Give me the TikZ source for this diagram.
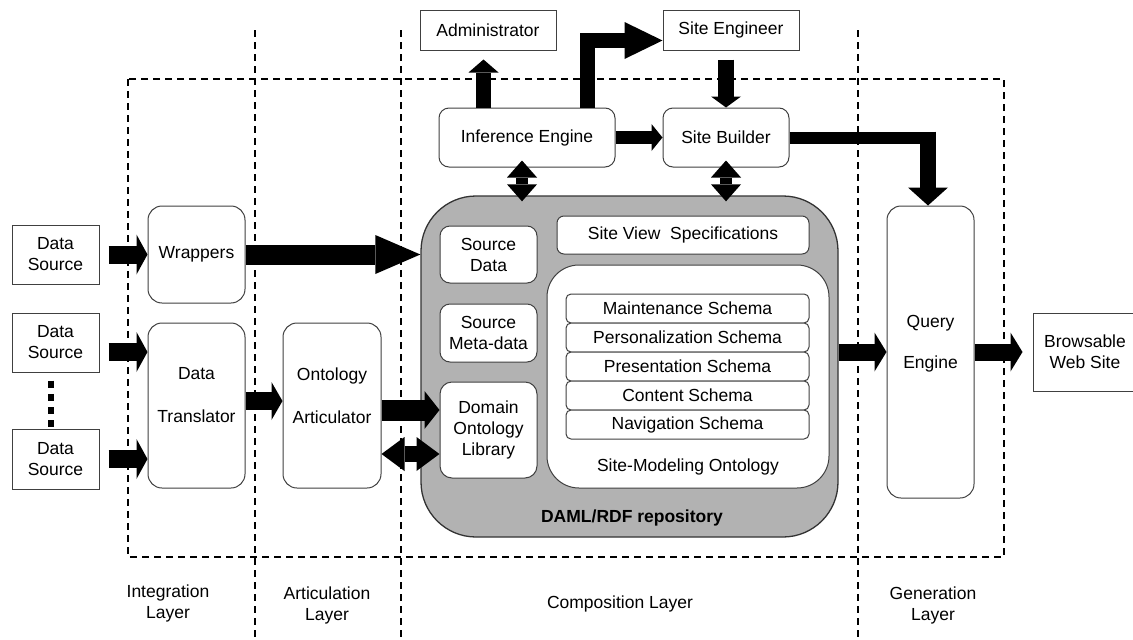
\documentclass[tikz,border=0pt]{standalone}
\usepackage{fontspec}
\setmainfont{Liberation Sans}
\usetikzlibrary{arrows.meta,calc}
\begin{document}
\begin{tikzpicture}[x=1pt,y=-1pt,
  font=\fontsize{17.5}{21}\selectfont,
  box/.style={draw=black!75, line width=1pt, fill=white, align=center, inner sep=0pt},
  rbox/.style={box, rounded corners=#1},
  dashline/.style={line width=2pt, dash pattern=on 7pt off 5pt},
  blk/.style={draw=black, line width=#1, line cap=butt, line join=miter},
  hd/.style 2 args={-{Triangle[width=#1,length=#2,line width=0pt]}},
  dhd/.style 2 args={arrows={Triangle[width=#1,length=#2,line width=0pt]-Triangle[width=#1,length=#2,line width=0pt]}},
]
\useasboundingbox (0,0) rectangle (1133,640);

% layer separators
\draw[dashline] (255,30) -- (255,640);
\draw[dashline] (401,30) -- (401,640);
\draw[dashline] (858,30) -- (858,640);
\draw[dashline] (128,79) rectangle (1004,557);

% top actors
\node[box, minimum width=136pt, minimum height=40pt] (Admin) at (488,30) {Administrator};
\node[box, minimum width=136pt, minimum height=40pt] (SE) at (731,30) {Site Engineer};
\node[rbox=10pt, minimum width=176pt, minimum height=59pt] (IE) at (527,137.5) {Inference Engine};
\node[rbox=10pt, minimum width=126pt, minimum height=59pt] (SB) at (726,137.5) {Site Builder};

% sources
\node[box, minimum width=87pt, minimum height=59pt] (DS1) at (55.5,254.5) {Data\\Source};
\node[box, minimum width=87pt, minimum height=59pt] (DS2) at (55.5,342.5) {Data\\Source};
\node[box, minimum width=87pt, minimum height=60pt] (DS3) at (55.5,459) {Data\\Source};
\draw[line width=6pt, dash pattern=on 7pt off 6.33pt] ($(DS2.south)+(-5,8)$) -- ($(DS3.north)+(-5,-2)$);

\node[rbox=14pt, minimum width=97pt, minimum height=97pt] (W) at (196.5,254.5) {Wrappers};
\node[rbox=14pt, minimum width=97pt, minimum height=165pt] (DT) at (196.5,405.5) {};
\node[align=center] (DTt) at (196.5,395.5) {Data\\[22pt]Translator};
\node[rbox=14pt, minimum width=98pt, minimum height=165pt] (OA) at (332,405.5) {};
\node[align=center] (OAt) at (332,395.5) {Ontology\\[22pt]Articulator};

% repository
\node[draw=black!80, line width=1.3pt, fill=gray!60, rounded corners=55pt,
      minimum width=417pt, minimum height=341pt, inner sep=0pt] (DAM) at (629.5,366.5) {};
\node[font=\fontsize{17.5}{21}\selectfont\bfseries] (DAMt) at (632,518) {DAML/RDF repository};
\node[rbox=10pt, minimum width=97pt, minimum height=57pt] (SD) at (488.5,254.5) {Source\\Data};
\node[rbox=10pt, minimum width=97pt, minimum height=58pt] (SMD) at (488.5,333) {Source\\Meta-data};
\node[rbox=12pt, minimum width=97pt, minimum height=96pt] (DOL) at (488.5,430) {Domain\\Ontology\\Library};
\node[rbox=7pt, minimum width=252pt, minimum height=38pt] (SVS) at (683,235) {Site View~ Specifications};
\node[rbox=32pt, minimum width=282pt, minimum height=223pt] (SMO) at (688,376.5) {};
\node (SMOt) at (688,467) {Site-Modeling Ontology};
\node[rbox=5pt, minimum width=243pt, minimum height=29pt] (MS) at (687.5,308.5) {Maintenance Schema};
\node[rbox=5pt, minimum width=243pt, minimum height=29pt] (PS) at (687.5,337.5) {Personalization Schema};
\node[rbox=5pt, minimum width=243pt, minimum height=29pt] (PrS) at (687.5,366.5) {Presentation Schema};
\node[rbox=5pt, minimum width=243pt, minimum height=29pt] (CS) at (687.5,395.5) {Content Schema};
\node[rbox=5pt, minimum width=243pt, minimum height=29pt] (NS) at (687.5,424.5) {Navigation Schema};

% generation
\node[rbox=14pt, minimum width=87pt, minimum height=292pt] (QE) at (930.5,352) {};
\node[align=center] (QEt) at (930.5,343.5) {Query\\[20pt]Engine};
\node[box, minimum width=104pt, minimum height=78pt] (BWS) at (1085,352) {Browsable\\Web Site};

% layer labels
\node[align=center] (L1) at (168,603) {Integration\\Layer};
\node[align=center] (L2) at (327,605.5) {Articulation\\Layer};
\node (L3) at (620,604) {Composition Layer};
\node[align=center] (L4) at (933,605) {Generation\\Layer};

% arrows
\draw[blk=18pt, hd={40pt}{11pt}] ($(DS1.east)+(9,0)$) -- (W.west);
\draw[blk=18pt, hd={40pt}{11pt}] ($(DS2.east)+(9,9.5)$) -- ($(DT.west |- DS2.east)+(0,9.5)$);
\draw[blk=18pt, hd={40pt}{11pt}] ($(DS3.east)+(9,0)$) -- (DT.west |- DS3.east);
\draw[blk=20pt, hd={39pt}{45pt}] (W.east) -- (W.east -| DAM.west);
\draw[blk=18pt, hd={38pt}{11pt}] ($(DT.east)+(0,-4.5)$) -- ($(OA.west)+(0,-4.5)$);
\draw[blk=21pt, hd={38pt}{15pt}] ($(OA.east)+(0,4.5)$) -- ($(DOL.west |- OA.east)+(0,4.5)$);
\draw[blk=16pt, dhd={34pt}{23pt}] ($(OA.east)+(0,48.5)$) -- ($(DOL.west |- OA.east)+(0,48.5)$);

\draw[blk=15pt, hd={30pt}{13pt}] ($(IE.north)+(-43.5,0)$) -- ($(Admin.south)+(-4.5,9)$);
\draw[blk=15pt, hd={37pt}{38pt}] ($(IE.north)+(60,0)$) |- ($(SE.west)+(0,10.5)$);
\draw[blk=16pt, hd={30pt}{11pt}] ($(SB.north |- SE.south)+(0,9)$) -- (SB.north);
\draw[blk=13pt, hd={27pt}{11pt}] (IE.east) -- (SB.west);
\draw[blk=12pt, dhd={30pt}{17pt}] ($(IE.south)+(-5,-7)$) -- ($(IE.south |- DAM.north)+(-5,6)$);
\draw[blk=12pt, dhd={30pt}{17pt}] ($(SB.south)+(0,-7)$) -- ($(SB.south |- DAM.north)+(0,6)$);

\draw[blk=12pt] (SB.east) -- ($(SB.east -| QE.north)+(5.5,0)$);
\draw[blk=16pt, hd={40pt}{18pt}] ($(SB.east -| QE.north)+(-2.5,-6)$) -- ($(QE.north)+(-2.5,0)$);
\draw[blk=17pt, hd={39pt}{12pt}] (DAM.east |- QE.west) -- (QE.west);
\draw[blk=17pt, hd={39pt}{12pt}] (QE.east) -- ($(BWS.west)+(-10,0)$);
\end{tikzpicture}
\end{document}
